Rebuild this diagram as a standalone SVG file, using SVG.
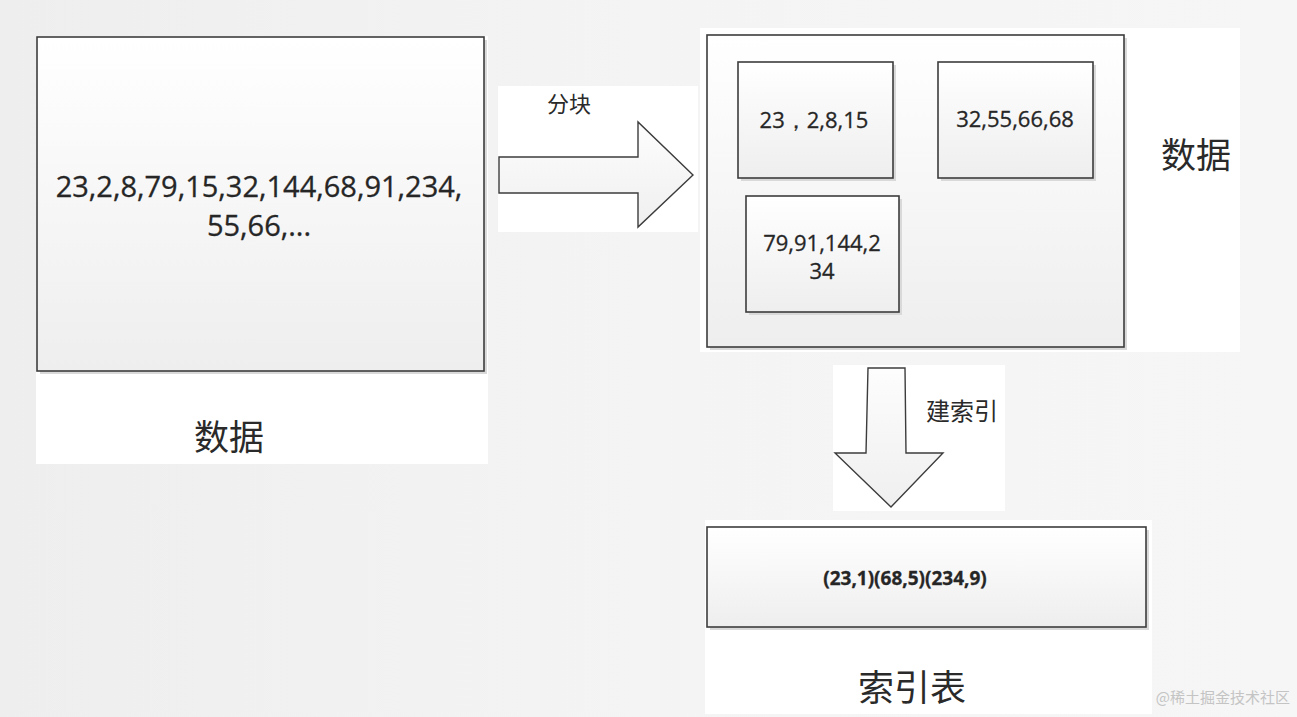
<svg xmlns="http://www.w3.org/2000/svg" width="1297" height="717" viewBox="0 0 1297 717">
<style>
.box{fill:url(#g);stroke:#3c3c3c;stroke-width:1.6}
.sh{fill:#d9d9d9}
.bg{fill:#ffffff}
.num{font-family:"Open Sans","Liberation Sans",sans-serif;fill:#262626;text-anchor:middle;stroke:#262626;stroke-width:0.3}
.cjk{font-family:"Noto Sans CJK SC",sans-serif;fill:#2a2a2a;text-anchor:middle}
.arrow{fill:url(#ga);stroke:#3c3c3c;stroke-width:1.4;stroke-linejoin:miter}
</style>
<defs>
<linearGradient id="g" x1="0" y1="0" x2="0" y2="1">
<stop offset="0" stop-color="#ffffff"/>
<stop offset="1" stop-color="#eeeeee"/>
</linearGradient>
<linearGradient id="ga" x1="0" y1="0" x2="0" y2="1">
<stop offset="0" stop-color="#fdfdfd"/>
<stop offset="1" stop-color="#efefef"/>
</linearGradient>
<linearGradient id="bgg" x1="0" y1="0" x2="1" y2="0">
<stop offset="0" stop-color="#eeeeee"/>
<stop offset="0.5" stop-color="#f4f4f4"/>
<stop offset="1" stop-color="#f6f6f6"/>
</linearGradient>
</defs>
<rect width="1297" height="717" fill="url(#bgg)"/>
<!-- white panels -->
<rect class="bg" x="36" y="36" width="452" height="428"/>
<rect class="bg" x="498" y="86" width="200" height="146"/>
<rect class="bg" x="700" y="28" width="540" height="324"/>
<rect class="bg" x="833" y="365" width="172" height="146"/>
<rect class="bg" x="705" y="520" width="447" height="194"/>

<g id="source-data">
<rect class="sh" x="40" y="40" width="447" height="334"/>
<rect class="box" x="37" y="37" width="447" height="334"/>
<text class="num" x="259" y="197" font-size="29">23,2,8,79,15,32,144,68,91,234,</text>
<text class="num" x="259" y="236" font-size="29">55,66,...</text>
</g>
<text class="cjk" x="229" y="450" font-size="35">数据</text>

<g id="connectors">
<g id="split-arrow">
<polygon class="arrow" points="499,157 638,157 638,122 693,175 638,227 638,193 499,193"/>
<text class="cjk" x="569" y="112" font-size="22">分块</text>
</g>
<g id="index-arrow">
<polygon class="arrow" points="868,368 905,368 906,453 943,453 891,507 835,453 866,453"/>
<text class="cjk" x="962" y="420" font-size="24">建索引</text>
</g>
</g>

<g id="blocks">
<rect class="sh" x="710" y="38" width="417" height="312"/>
<rect class="box" x="707" y="35" width="417" height="312"/>
</g>
<g id="block-1">
<rect class="sh" x="741" y="65" width="155" height="116"/>
<rect class="box" x="738" y="62" width="155" height="116"/>
<text class="num" x="814" y="128" font-size="22">23，2,8,15</text>
</g>
<g id="block-2">
<rect class="sh" x="941" y="65" width="155" height="116"/>
<rect class="box" x="938" y="62" width="155" height="116"/>
<text class="num" x="1015" y="127" font-size="22">32,55,66,68</text>
</g>
<g id="block-3">
<rect class="sh" x="749" y="199" width="153" height="116"/>
<rect class="box" x="746" y="196" width="153" height="116"/>
<text class="num" x="822" y="251" font-size="22">79,91,144,2</text>
<text class="num" x="822" y="279" font-size="22">34</text>
</g>
<text class="cjk" x="1196" y="168" font-size="35">数据</text>

<g id="index-table">
<rect class="sh" x="710" y="530" width="439" height="100"/>
<rect class="box" x="707" y="527" width="439" height="100"/>
<text class="num" x="905" y="585" font-size="19" font-weight="bold">(23,1)(68,5)(234,9)</text>
</g>
<text class="cjk" x="912" y="701" font-size="36">索引表</text>

<text x="1290" y="703" font-family="Noto Sans CJK SC,sans-serif" font-size="15" fill="#c4c4c4" text-anchor="end">@稀土掘金技术社区</text>
</svg>
